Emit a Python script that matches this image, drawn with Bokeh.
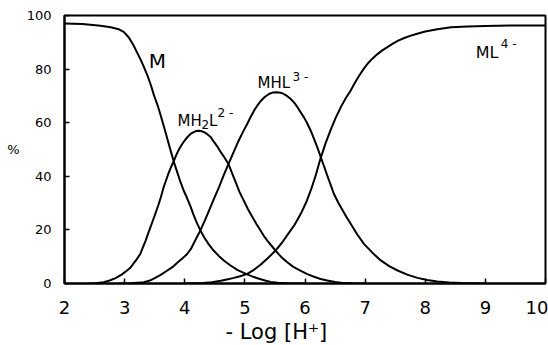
from bokeh.plotting import figure
from bokeh.models import Range1d, FixedTicker, Title
from bokeh.core.properties import value
from bokeh.embed import file_html
from bokeh.resources import INLINE

# -Log[H+] tick values and % tick values
x_ticks = [2, 3, 4, 5, 6, 7, 8, 9, 10]
y_ticks = [0, 20, 40, 60, 80, 100]

# Species distribution curves
ph_M = [2.0, 2.3, 2.6, 2.77, 2.9, 2.99, 3.07, 3.15, 3.2, 3.26, 3.32, 3.38, 3.44, 3.49,
        3.55, 3.60, 3.66, 3.71, 3.77, 3.82, 3.88, 3.93, 3.98, 4.04, 4.10, 4.15, 4.20,
        4.26, 4.33, 4.40, 4.48, 4.57, 4.66, 4.75, 4.88, 5.04, 5.15, 5.25, 5.35, 5.43,
        5.55, 5.7, 6.0]
pct_M = [97.0, 96.8, 96.2, 95.6, 94.9, 93.8, 91.8, 88.8, 86.5, 83.8, 80.8, 77.6, 73.8, 70.1,
         66.4, 62.7, 58.0, 54.0, 49.2, 45.3, 41.2, 37.8, 34.8, 31.8, 28.5, 25.4, 22.7,
         19.8, 17.0, 14.6, 12.3, 10.2, 8.4, 6.9, 5.0, 3.4, 2.4, 1.7, 1.0, 0.6,
         0.3, 0.1, 0.0]

ph_MH2L = [2.4, 2.55, 2.65, 2.75, 2.85, 2.95, 3.04, 3.10, 3.15, 3.20, 3.26, 3.30, 3.35,
           3.39, 3.43, 3.47, 3.51, 3.56, 3.60, 3.65, 3.72, 3.77, 3.82, 3.86, 3.90, 3.94,
           3.98, 4.02, 4.06, 4.10, 4.15, 4.19, 4.23, 4.27, 4.32, 4.37, 4.43, 4.48, 4.54,
           4.60, 4.66, 4.73, 4.79, 4.85, 4.91, 4.98, 5.05, 5.12, 5.19, 5.26, 5.32, 5.38,
           5.45, 5.51, 5.60, 5.70, 5.80, 5.93, 6.04, 6.15, 6.26, 6.37, 6.5, 6.6, 6.8, 7.0]
pct_MH2L = [0.0, 0.2, 0.5, 1.1, 2.0, 3.3, 4.85, 6.0, 7.5, 9.0, 11.0, 13.3, 16.0,
            18.6, 21.0, 23.5, 26.0, 29.2, 32.0, 36.0, 40.5, 43.3, 45.8, 48.0, 49.9, 51.4,
            52.8, 54.0, 55.0, 55.9, 56.5, 56.9, 57.0, 56.9, 56.5, 55.8, 54.7, 53.0, 51.2,
            49.0, 47.0, 44.5, 41.0, 37.6, 34.2, 31.0, 27.8, 25.0, 22.3, 19.8, 17.6, 15.8,
            13.9, 12.3, 10.0, 8.0, 6.3, 4.7, 3.5, 2.5, 1.7, 1.1, 0.6, 0.3, 0.1, 0.0]

ph_MHL = [2.9, 3.1, 3.32, 3.42, 3.5, 3.6, 3.71, 3.80, 3.88, 3.96, 4.04, 4.10, 4.15, 4.20,
          4.26, 4.33, 4.40, 4.48, 4.57, 4.65, 4.73, 4.80, 4.88, 4.96, 5.04, 5.10, 5.15,
          5.21, 5.26, 5.33, 5.40, 5.47, 5.54, 5.61, 5.68, 5.75, 5.82, 5.88, 5.93, 5.99,
          6.04, 6.10, 6.15, 6.21, 6.26, 6.32, 6.37, 6.43, 6.48, 6.55, 6.62, 6.69, 6.76,
          6.87, 6.98, 7.12, 7.26, 7.40, 7.54, 7.70, 7.87, 8.03, 8.2, 8.4, 8.6, 9.0]
pct_MHL = [0.0, 0.1, 0.5, 1.1, 2.0, 3.2, 4.85, 6.2, 7.8, 9.3, 11.0, 12.8, 15.0, 17.2,
           19.8, 23.3, 27.0, 31.3, 36.0, 40.5, 44.7, 48.4, 52.5, 56.2, 59.6, 62.3, 64.4,
           66.5, 68.0, 69.6, 70.7, 71.3, 71.4, 71.1, 70.3, 69.1, 67.5, 65.6, 63.8, 61.7,
           59.6, 56.8, 54.0, 50.5, 47.3, 43.5, 40.3, 36.6, 33.5, 30.3, 27.5, 24.8, 22.3,
           18.3, 14.8, 11.5, 8.6, 6.5, 4.85, 3.3, 2.1, 1.3, 0.75, 0.4, 0.2, 0.0]

ph_ML = [4.0, 4.3, 4.45, 4.6, 4.7, 4.8, 4.92, 5.04, 5.15, 5.26, 5.38, 5.51, 5.62, 5.72,
         5.83, 5.93, 6.02, 6.1, 6.18, 6.26, 6.34, 6.43, 6.51, 6.6, 6.68, 6.76, 6.83, 6.9,
         6.97, 7.04, 7.12, 7.2, 7.28, 7.37, 7.46, 7.55, 7.65, 7.76, 7.88, 8.0, 8.2, 8.43,
         8.7, 9.0, 9.5, 10.0]
pct_ML = [0.0, 0.2, 0.5, 1.0, 1.5, 2.0, 2.7, 3.6, 5.1, 7.0, 9.4, 12.3, 15.3, 18.5,
          22.0, 26.0, 30.3, 35.0, 40.5, 46.8, 52.2, 57.5, 61.8, 66.0, 69.2, 72.0, 74.9, 77.5,
          79.9, 82.0, 83.9, 85.5, 86.9, 88.2, 89.5, 90.6, 91.6, 92.5, 93.3, 94.0, 94.9, 95.6,
          95.9, 96.1, 96.3, 96.3]

FONT = "DejaVu Sans"

p = figure(width=548, height=345, x_range=Range1d(2, 10), y_range=Range1d(0, 100),
           output_backend="svg", toolbar_location=None,
           min_border_left=64, min_border_right=3, min_border_top=15, min_border_bottom=62)
p.xgrid.visible = False
p.ygrid.visible = False
p.outline_line_color = "black"
p.outline_line_width = 2
p.outline_line_alpha = 1.0
p.background_fill_color = "white"
p.border_fill_color = "white"

for ax in (p.xaxis[0], p.yaxis[0]):
    ax.axis_line_width = 2
    ax.axis_line_color = "black"
    ax.major_tick_in = 5
    ax.major_tick_out = 0
    ax.minor_tick_in = 0
    ax.minor_tick_out = 0
    ax.major_tick_line_width = 1.5
    ax.major_tick_line_color = "black"
    ax.major_label_text_color = "black"
    ax.major_label_text_font = FONT

p.xaxis.ticker = FixedTicker(ticks=x_ticks)
p.yaxis.ticker = FixedTicker(ticks=y_ticks)
p.xaxis.major_label_text_font_size = "18px"
p.yaxis.major_label_text_font_size = "13px"
p.xaxis.major_label_standoff = 17
p.yaxis.major_label_standoff = 13

yax = p.yaxis[0]
yax.axis_label = "%"
yax.axis_label_text_font = FONT
yax.axis_label_text_font_size = "13px"
yax.axis_label_text_font_style = "normal"
yax.axis_label_text_color = "black"
yax.axis_label_standoff = 4
try:
    yax.axis_label_orientation = "horizontal"
except Exception:
    pass

for xs, ys in ((ph_M, pct_M), (ph_MH2L, pct_MH2L), (ph_MHL, pct_MHL), (ph_ML, pct_ML)):
    p.line(xs, ys, line_color="black", line_width=2, line_join="round")


def species_label(x, y, parts):
    # parts: (text, font size px, x offset px, y offset px)
    for txt, size, dx, dy in parts:
        p.text(x=[x], y=[y], text=[txt], text_font=value(FONT), text_font_size=f"{size}px",
               x_offset=dx, y_offset=dy, text_baseline="alphabetic", text_align="left",
               text_color="black")


species_label(3.40, 83.2, [("M", 20, 0, 0)])
species_label(3.88, 60.8, [("MH", 15, 0, 0), ("2", 12, 24, 4), ("L", 15, 31.5, 0),
                           ("2 -", 12, 40, -8)])
species_label(5.21, 75.0, [("MHL", 15, 0, 0), ("3 -", 12, 35, -6)])
species_label(8.84, 86.3, [("ML", 16, 0, 0), ("4 -", 12, 25, -8)])

p.add_layout(Title(text="- Log [H⁺]", align="left", offset=161, standoff=3,
                   text_font=FONT, text_font_size="21px", text_font_style="normal",
                   text_color="black"), "below")

open("out.html", "w").write(file_html(p, INLINE))
